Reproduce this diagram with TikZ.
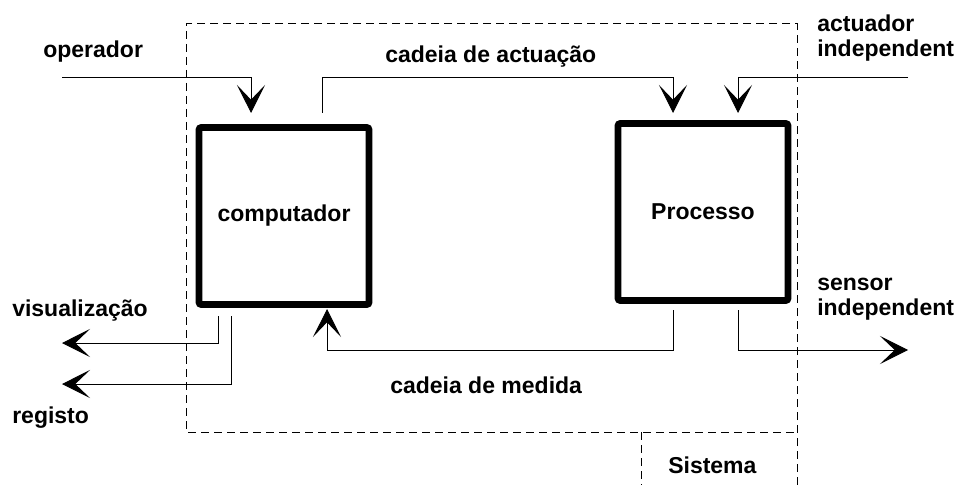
\documentclass[tikz,border=0pt]{standalone}
\usepackage{fontspec}
\setmainfont{Liberation Sans}
\usetikzlibrary{arrows.meta}

\begin{document}
\begin{tikzpicture}[x=0.75pt,y=-0.75pt,>={Stealth[length=21pt,width=21pt,inset=11pt]},
		txt/.style={font=\bfseries\fontsize{17.25}{18.75}\selectfont, inner sep=0pt, anchor=base west},
		bloco/.style={draw, line width=4.9pt, rounded corners=1.5pt, minimum width=127.5pt, minimum height=132.75pt, inner sep=0pt, font=\bfseries\fontsize{17.25}{18.75}\selectfont},
		fio/.style={line width=0.75pt},
		limite/.style={line width=0.75pt, dash pattern=on 6pt off 3.75pt}]
		\useasboundingbox (0,0) rectangle (954,485);
		%sistema
		\draw [limite] (797,485) -- (797,24) -- (186,24) -- (186,432) -- (797,432);
		\draw [limite] (641,432) -- (641,485);
		%blocos
		\node [bloco] (comp) at (284,216) {computador};
		\node [bloco] (proc) at (703,212) {Processo};
		%textos
		\node [txt] (operador) at (43,58) {operador};
		\node [txt] (actuacao) at (385,63) {cadeia de actuação};
		\node [txt] (medida) at (390,393) {cadeia de medida};
		\node [txt] (visual) at (12,316) {visualização};
		\node [txt] (registo) at (12,423) {registo};
		\node [txt] (sistema) at (668,473) {Sistema};
		\node [txt, align=left] (actuador) at (817,57) {actuador\\independente};
		\node [txt, align=left] (sensor) at (817,315) {sensor\\independente};
		%pontas
		\coordinate (opIni) at (62,78);
		\coordinate (compIn) at (251,113);
		\coordinate (compOut) at (322,113);
		\coordinate (procInA) at (673,113);
		\coordinate (actIni) at (908,78);
		\coordinate (procInB) at (738,113);
		\coordinate (compOutA) at (218,316);
		\coordinate (visFim) at (62,343);
		\coordinate (compOutB) at (231,316);
		\coordinate (regFim) at (62,384);
		\coordinate (procOutA) at (673,310);
		\coordinate (compInB) at (327,309);
		\coordinate (procOutB) at (738,310);
		\coordinate (sensorFim) at (908,350);
		%cima
		\draw [fio,->] (opIni) -| (compIn);
		\draw [fio,->] (compOut) -- ++(0,-35) -| (procInA);
		\draw [fio,->] (actIni) -| (procInB);
		%baixo
		\draw [fio,->] (compOutA) |- (visFim);
		\draw [fio,->] (compOutB) |- (regFim);
		\draw [fio,->] (procOutA) -- ++(0,40) -| (compInB);
		\draw [fio,->] (procOutB) |- (sensorFim);
	\end{tikzpicture}
\end{document}
